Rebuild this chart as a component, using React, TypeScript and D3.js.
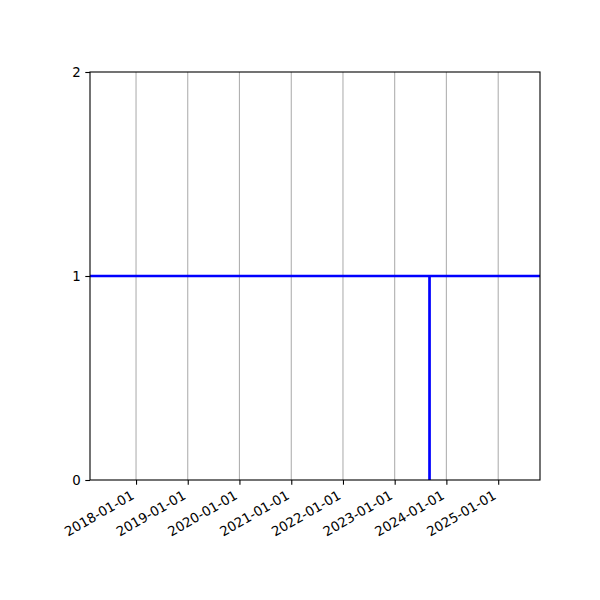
import { useEffect, useRef } from "react"
import * as d3 from "d3"

const dates = ["2017-02-10", "2023-09-04", "2023-09-04", "2023-09-04", "2025-10-23"]
const values = [1, 1, 0, 1, 1]
const yTicks = [0, 1, 2]

export default function App() {
  const ref = useRef<SVGSVGElement>(null)
  useEffect(() => {
    if (!ref.current) return
    const m = { top: 72, right: 60, bottom: 120, left: 90 }
    const W = 600 - m.left - m.right
    const H = 600 - m.top - m.bottom
    d3.select(ref.current).selectAll("*").remove()
    const root = d3.select(ref.current)
    root.append("rect").attr("width", 600).attr("height", 600).attr("fill", "#fff")
    const svg = root.append("g").attr("transform", `translate(${m.left},${m.top})`)

    const parse = d3.timeParse("%Y-%m-%d")
    const pts = dates.map((d, i) => ({ t: parse(d)!, v: values[i] }))
    const x = d3.scaleTime().domain(d3.extent(pts, d => d.t) as [Date, Date]).range([0, W])
    const y = d3.scaleLinear().domain([0, 2]).range([H, 0])
    const years = d3.timeYear.range(d3.timeYear.ceil(x.domain()[0]), x.domain()[1])
    const fmt = d3.timeFormat("%Y-%m-%d")
    const font = "DejaVu Sans, sans-serif"

    // vertical grid
    svg.append("g").selectAll("line").data(years).join("line")
      .attr("x1", d => x(d)).attr("x2", d => x(d)).attr("y1", 0).attr("y2", H)
      .attr("stroke", "#b0b0b0").attr("stroke-width", 1.1)

    const line = d3.line<{ t: Date; v: number }>().x(d => x(d.t)).y(d => y(d.v))
    svg.append("path").datum(pts).attr("d", line).attr("fill", "none")
      .attr("stroke", "#0000ff").attr("stroke-width", 2.7).attr("stroke-linejoin", "miter")

    svg.append("rect").attr("width", W).attr("height", H).attr("fill", "none")
      .attr("stroke", "#000").attr("stroke-width", 1.1)

    svg.append("g").attr("transform", `translate(0,${H})`)
      .call(d3.axisBottom(x).tickValues(years).tickFormat(d => fmt(d as Date)).tickSize(4.7).tickSizeOuter(0))
      .call(g => {
        g.select(".domain").remove()
        g.selectAll("line").attr("stroke", "#000").attr("stroke-width", 1.1)
        g.selectAll("text").attr("y", null).attr("dy", null)
          .attr("transform", "translate(-1.5,18) rotate(-30)")
          .attr("text-anchor", "end").style("font-family", font).style("font-size", "13.33px").attr("fill", "#000")
      })

    svg.append("g")
      .call(d3.axisLeft(y).tickValues(yTicks).tickFormat(d3.format("d")).tickSize(4.7).tickPadding(4.7).tickSizeOuter(0))
      .call(g => {
        g.select(".domain").remove()
        g.selectAll("line").attr("stroke", "#000").attr("stroke-width", 1.1)
        g.selectAll("text").attr("dy", "0.36em").style("font-family", font).style("font-size", "13.33px").attr("fill", "#000")
      })
  }, [])
  return <svg ref={ref} width={600} height={600} style={{ position: "absolute", left: 0, top: 0, display: "block" }} />
}
